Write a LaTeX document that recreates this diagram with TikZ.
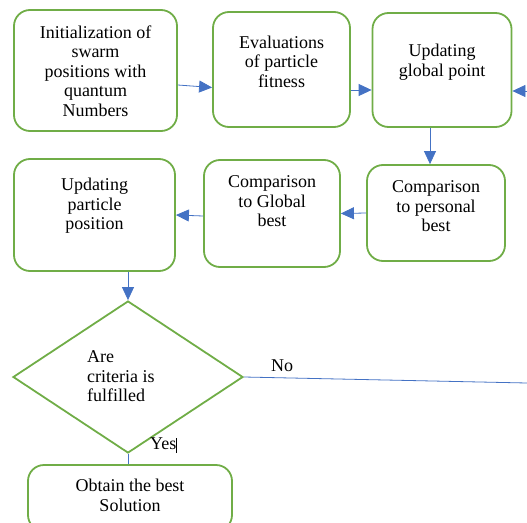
\documentclass[tikz,border=0pt]{standalone}
\usepackage{fontspec}
\setmainfont{Liberation Serif}
\usetikzlibrary{shapes.geometric,arrows.meta}
\definecolor{boxgreen}{HTML}{70AD47}
\definecolor{arrblue}{HTML}{4472C4}
\tikzset{
  box/.style={draw=boxgreen, line width=1.8pt, rounded corners=16pt, inner sep=0pt},
  lbl/.style={align=center, font=\fontsize{18}{19.4}\selectfont, inner sep=0pt},
  arr/.style={draw=arrblue, line width=0.8pt, -{Triangle[length=13pt,width=12pt]}},
  plain/.style={draw=arrblue, line width=0.8pt},
}
\begin{document}
\begin{tikzpicture}[x=1pt,y=-1pt]
\useasboundingbox (0,0) rectangle (527,522);
\begin{scope}
\clip (0,0) rectangle (527,522);
% boxes
\node[box, minimum width=163pt, minimum height=121pt] (b1) at (95.5,70.5) {};
\node[box, minimum width=137pt, minimum height=115pt] (b2) at (281.5,69.5) {};
\node[box, minimum width=139pt, minimum height=114pt] (b3) at (442,70) {};
\node[box, minimum width=138pt, minimum height=96pt] (b4) at (436,213) {};
\node[box, minimum width=136pt, minimum height=107pt] (b5) at (272,213.5) {};
\node[box, minimum width=161pt, minimum height=112pt] (b6) at (94.5,215) {};
\node[draw=boxgreen, line width=1.8pt, diamond, inner sep=0pt, minimum width=230pt, minimum height=152pt] (d) at (128,377) {};
\node[box, minimum width=204pt, minimum height=66pt] (b7) at (130,498) {};
% labels
\node[lbl] (t1) at (95.5,71) {Initialization of\\swarm\\positions with\\quantum\\Numbers};
\node[lbl] (t2) at (281.5,61.5) {Evaluations\\of particle\\fitness};
\node[lbl] (t3) at (442,62) {Updating\\global point};
\node[lbl] (t4) at (436,206.5) {Comparison\\to personal\\best};
\node[lbl] (t5) at (272,201.5) {Comparison\\to Global\\best};
\node[lbl] (t6) at (94.5,206) {Updating\\particle\\position};
\node[lbl, align=left, anchor=west] (t7) at (87,376.5) {Are\\criteria is\\fulfilled};
\node[lbl] (t8) at (130,495.5) {Obtain the best\\Solution};
\node[lbl, anchor=west] (no) at (271,366) {No};
\node[lbl, anchor=west] (yes) at (150,445) {Yes\rule[-3pt]{0.5pt}{15pt}};
% connectors
\coordinate (rin) at (527,91);
\coordinate (rout) at (527,383);
\draw[arr] ([yshift=-14.5pt]b1.east) -- ([yshift=-18pt]b2.west);
\draw[arr] ([yshift=-20.5pt]b2.east) -- ([yshift=-20pt]b3.west);
\draw[arr] (rin) -- ([yshift=-21pt]b3.east);
\draw[arr] ([xshift=-12pt]b3.south) -- ([xshift=-6pt]b4.north);
\draw[arr] (b4.west) -- (b5.east);
\draw[arr] ([yshift=-2.5pt]b5.west) -- (b6.east);
\draw[arr] ([xshift=33.5pt]b6.south) -- (d.north);
\draw[plain] (d.east) -- (rout);
\draw[plain] (d.south) -- (d.south |- b7.north);
\end{scope}
\end{tikzpicture}
\end{document}
